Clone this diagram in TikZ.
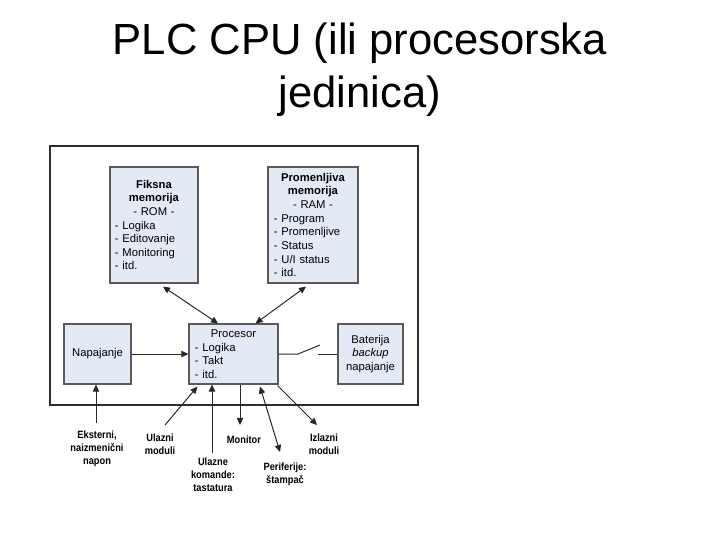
\documentclass[tikz,border=0pt]{standalone}
\usepackage{fontspec}
\setmainfont{Liberation Sans}
\newfontfamily\lblfont[FakeStretch=0.88]{Liberation Sans}
\usetikzlibrary{arrows.meta, positioning, calc}
\definecolor{boxfill}{HTML}{E3EAF5}
\definecolor{boxline}{HTML}{5A5A5A}
\definecolor{frameline}{HTML}{2E2E2E}

\begin{document}
\begin{tikzpicture}[x=0.025cm, y=-0.025cm,
    membox/.style={draw=boxline, line width=0.8pt, fill=boxfill, minimum width=2.2cm, minimum height=2.9cm, text width=1.95cm, inner xsep=0.125cm, align=left, font=\fontsize{8}{9.7}\selectfont},
    unit/.style={draw=boxline, line width=0.8pt, fill=boxfill, minimum width=#1, minimum height=1.5cm, inner sep=2pt, align=center, font=\fontsize{8}{9.7}\selectfont},
    lbl/.style={font=\lblfont\fontsize{7.5}{9.3}\selectfont\bfseries, align=center, inner sep=1pt},
    wire/.style={line width=0.7pt, black!85},
    arr/.style={-{Triangle[length=5pt, width=4.5pt]}, wire},
    darr/.style={{Triangle[length=5pt, width=4.5pt]}-{Triangle[length=5pt, width=4.5pt]}, wire},
]
\useasboundingbox (0,0) rectangle (720,540);

% Title
\node[font=\fontsize{31}{37}\selectfont, align=center, anchor=base] (title) at (360,107) {PLC CPU (ili procesorska\\jedinica)};

% Outer frame
\node[draw=frameline, line width=0.9pt, minimum width=9.2cm, minimum height=6.475cm, inner sep=0pt] (frame) at (234,275.5) {};

% Memories
\node[membox] (rom) at (154,225) {{\centering\textbf{Fiksna}\\\textbf{memorija}\\- ROM -\par}- Logika\\- Editovanje\\- Monitoring\\- itd.};
\node[membox, minimum width=2.25cm] (ram) at (313,225) {{\centering\textbf{Promenljiva}\\\textbf{memorija}\\- RAM -\par}- Program\\- Promenljive\\- Status\\- U/I status\\- itd.};

% Middle row
\node[unit=1.675cm] (psu) at (97.5,354) {Napajanje};
\node[unit=2.225cm, text width=1.925cm, inner xsep=0.15cm, align=left] (cpu) at (233.5,354) {{\centering Procesor\par}- Logika\\- Takt\\- itd.};
\node[unit=1.625cm] (bat) at (370.5,354) {Baterija\\\textit{backup}\\napajanje};

\draw[darr] ($(rom.south)+(9,3)$) -- ($(cpu.north)+(-15.5,0)$);
\draw[darr] ($(ram.south)+(-7,3)$) -- ($(cpu.north)+(22,0)$);
\draw[arr] (psu) -- (cpu);

% Battery switch
\coordinate (sw1) at (298,354);
\coordinate (sw2) at (320,345);
\coordinate (sw3) at (318,354);
\draw[wire] (cpu.east) -- (sw1) -- (sw2);
\draw[wire] (sw3) -- (bat.west);

% Outside signals
\node[lbl] (ext) at (97,449) {Eksterni,\\naizmenični\\napon};
\node[lbl] (inmod) at (160,444) {Ulazni\\moduli};
\node[lbl] (keys) at (213,475) {Ulazne\\komande:\\tastatura};
\node[lbl] (mon) at (244,440) {Monitor};
\node[lbl] (prn) at (285,474) {Periferije:\\štampač};
\node[lbl] (outmod) at (324,444) {Izlazni\\moduli};

\coordinate (extend) at (96,423);
\coordinate (inmodend) at (165,425);
\coordinate (keysend) at (212,453);
\coordinate (monend) at (240,425);
\coordinate (prnend) at (280,452);
\coordinate (outmodend) at (317,425);

\draw[arr] (extend) -- (extend |- psu.south);
\draw[arr] (inmodend) -- ($(cpu.south west)+(9,2)$);
\draw[arr] (keysend) -- (keysend |- cpu.south);
\draw[arr] (monend |- cpu.south) -- (monend);
\draw[darr] ($(cpu.south)+(26.5,2)$) -- (prnend);
\draw[arr] ($(cpu.south east)+(-1,1)$) -- (outmodend);

\end{tikzpicture}
\end{document}
